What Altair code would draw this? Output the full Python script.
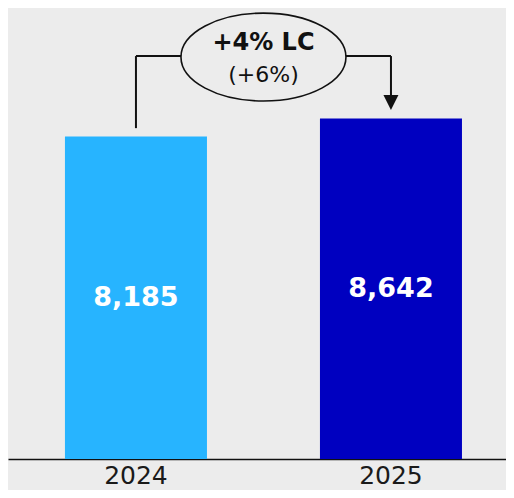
import altair as alt
import pandas as pd

# ---- data ----
years = ["2024", "2025"]
values = [8185, 8642]
bar_colors = ["#27b4ff", "#0000c0"]

headline = "+4% LC"
subline = "(+6%)"

# annotation anchors (data units on the y scale)
bracket_level = 10230
left_start = 8400
arrow_tip = 8860
arrow_line_end = 9060

Y_MAX = 11450
BG = "#ececec"

bars_df = pd.DataFrame({"year": years, "value": values})

x_scale = alt.Scale(domain=years, paddingInner=0.4431, paddingOuter=0.198, align=0.564)
y_scale = alt.Scale(domain=[0, Y_MAX], nice=False, zero=True)

x_enc = alt.X(
    "year:N",
    scale=x_scale,
    axis=alt.Axis(
        title=None, labelAngle=0, ticks=False, tickSize=0, labelPadding=4,
        labelFont="DejaVu Sans", labelFontSize=25, labelColor="#1a1a1a",
        domainColor="#111111", domainWidth=1.6, grid=False,
    ),
)

bars = alt.Chart(bars_df).mark_bar().encode(
    x=x_enc,
    y=alt.Y("value:Q", scale=y_scale, axis=None),
    color=alt.Color("year:N", scale=alt.Scale(domain=years, range=bar_colors), legend=None),
)

labels = alt.Chart(bars_df).transform_calculate(mid="datum.value / 2").mark_text(
    font="DejaVu Sans", fontSize=27, fontWeight="bold", color="white", baseline="middle"
).encode(
    x=alt.X("year:N", scale=x_scale),
    y=alt.Y("mid:Q", scale=y_scale),
    text=alt.Text("value:Q", format=","),
)

# connector lines
left_df = pd.DataFrame({"year": [years[0]], "y1": [left_start], "y2": [bracket_level]})
left_line = alt.Chart(left_df).mark_rule(color="#111111", strokeWidth=2).encode(
    x=alt.X("year:N", scale=x_scale), y="y1:Q", y2="y2:Q"
)

horiz_df = pd.DataFrame({"a": [years[0]], "b": [years[1]], "lvl": [bracket_level]})
horiz_line = alt.Chart(horiz_df).mark_rule(color="#111111", strokeWidth=2).encode(
    x=alt.X("a:N", scale=x_scale), x2="b:N", y=alt.Y("lvl:Q", scale=y_scale)
)

right_df = pd.DataFrame({"year": [years[1]], "y1": [bracket_level], "y2": [arrow_line_end]})
right_line = alt.Chart(right_df).mark_rule(color="#111111", strokeWidth=2).encode(
    x=alt.X("year:N", scale=x_scale), y="y1:Q", y2="y2:Q"
)

tip_df = pd.DataFrame({"year": [years[1]], "tip": [arrow_tip]})
arrow_head = alt.Chart(tip_df).mark_point(
    shape="M -1 -1 L 1 -1 L 0 1 Z", size=225, filled=True, fill="#111111",
    strokeWidth=0, opacity=1, yOffset=-7.5,
).encode(x=alt.X("year:N", scale=x_scale), y=alt.Y("tip:Q", scale=y_scale))

ellipse_path = (
    "M -1 0 C -1 -0.2944 -0.5523 -0.533 0 -0.533 "
    "C 0.5523 -0.533 1 -0.2944 1 0 "
    "C 1 0.2944 0.5523 0.533 0 0.533 "
    "C -0.5523 0.533 -1 0.2944 -1 0 Z"
)
center_df = pd.DataFrame({"year": [years[0]], "lvl": [bracket_level], "t1": [headline], "t2": [subline]})
ellipse = alt.Chart(center_df).mark_point(
    shape=ellipse_path, size=165 * 165, filled=True, fill=BG, stroke="#111111",
    strokeWidth=1.6, opacity=1, xOffset=127.5, yOffset=1,
).encode(x=alt.X("year:N", scale=x_scale), y=alt.Y("lvl:Q", scale=y_scale))

head_text = alt.Chart(center_df).mark_text(
    font="DejaVu Sans", fontSize=24, fontWeight="bold", color="#111111",
    baseline="alphabetic", xOffset=127.5, dy=-6,
).encode(x=alt.X("year:N", scale=x_scale), y=alt.Y("lvl:Q", scale=y_scale), text="t1:N")

sub_text = alt.Chart(center_df).mark_text(
    font="DejaVu Sans", fontSize=22, color="#111111",
    baseline="alphabetic", xOffset=127.5, dy=26,
).encode(x=alt.X("year:N", scale=x_scale), y=alt.Y("lvl:Q", scale=y_scale), text="t2:N")

chart = alt.layer(
    bars, labels, left_line, horiz_line, right_line, arrow_head, ellipse, head_text, sub_text
).properties(
    width=498, height=451,
    background=BG,
    padding={"left": 0, "top": 0, "right": 0, "bottom": 31},
    autosize=alt.AutoSizeParams(type="none"),
).configure_view(stroke=None)

chart.save("out.html", embed_options={"renderer": "svg", "actions": False})
